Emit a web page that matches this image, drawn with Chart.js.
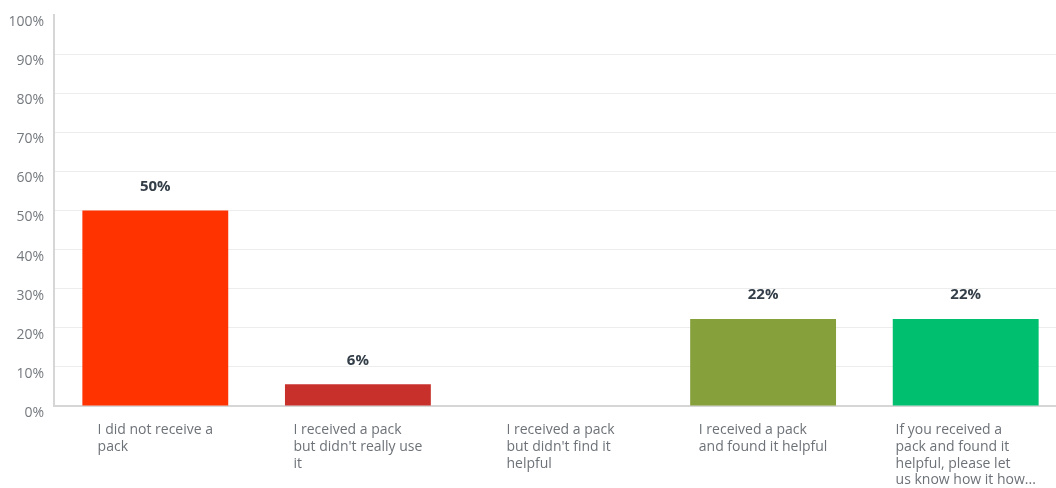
<!DOCTYPE html>
<html>
<head>
<meta charset="utf-8">
<script src="https://cdn.jsdelivr.net/npm/chart.js@4.4.1/dist/chart.umd.min.js"></script>
<style>
  html, body { margin: 0; padding: 0; background: #fff; overflow: hidden; }
  #wrap { width: 1067px; height: 488px; position: relative; }
</style>
</head>
<body>
<div id="wrap"><canvas id="answers"></canvas></div>
<script>
// answer choices, wrapped the way they appear under each bar
var categories = [
  ['I did not receive a', 'pack'],
  ['I received a pack', "but didn't really use", 'it'],
  ['I received a pack', "but didn't find it", 'helpful'],
  ['I received a pack', 'and found it helpful'],
  ['If you received a', 'pack and found it', 'helpful, please let', 'us know how it how...']
];
// share of respondents, percent
var responses = [50, 5.56, 0, 22.22, 22.22];
var barColors = ['#ff3300', '#c8312b', '#9e9e9e', '#86a03c', '#00bf6f'];
var yTicks = [0, 10, 20, 30, 40, 50, 60, 70, 80, 90, 100];

var fontFamily = '"Open Sans", "Noto Sans", sans-serif';

// percentage printed above each bar
var valueLabels = {
  id: 'valueLabels',
  afterDatasetsDraw: function (chart) {
    var ctx = chart.ctx;
    var meta = chart.getDatasetMeta(0);
    ctx.save();
    ctx.font = 'bold 15px ' + fontFamily;
    ctx.fillStyle = '#333e48';
    ctx.textAlign = 'center';
    ctx.textBaseline = 'middle';
    meta.data.forEach(function (bar, i) {
      var v = responses[i];
      if (!v) return;
      ctx.fillText(Math.round(v) + '%', bar.x, bar.y - 24);
    });
    ctx.restore();
  }
};

// category names: a left-aligned block of lines centred under each tick
var categoryLabels = {
  id: 'categoryLabels',
  afterDraw: function (chart) {
    var ctx = chart.ctx;
    var xs = chart.scales.x;
    ctx.save();
    ctx.font = '14px ' + fontFamily;
    ctx.fillStyle = '#6d7278';
    ctx.textAlign = 'left';
    ctx.textBaseline = 'middle';
    categories.forEach(function (lines, i) {
      var w = 0;
      lines.forEach(function (l) { w = Math.max(w, ctx.measureText(l).width); });
      var left = xs.getPixelForTick(i) - w / 2;
      lines.forEach(function (l, k) {
        ctx.fillText(l, left, xs.top + 24 + k * 16.8);
      });
    });
    ctx.restore();
  }
};

new Chart(document.getElementById('answers'), {
  type: 'bar',
  data: {
    labels: categories.map(function (l) { return l.join(' '); }),
    datasets: [{
      data: responses,
      backgroundColor: barColors,
      borderWidth: 0,
      barPercentage: 0.72,
      categoryPercentage: 1
    }]
  },
  options: {
    responsive: true,
    maintainAspectRatio: false,
    animation: false,
    layout: { padding: { top: 15, right: 0, left: 0, bottom: 0 } },
    plugins: {
      legend: { display: false },
      tooltip: { enabled: false }
    },
    scales: {
      x: {
        grid: { display: false, drawTicks: false },
        border: { display: true, color: '#d6d6d6', width: 2 },
        ticks: { display: false },
        afterFit: function (scale) {
          scale.height = 82;
          scale.paddingLeft = 0;
          scale.paddingRight = 0;
        }
      },
      y: {
        min: 0,
        max: 100,
        afterBuildTicks: function (scale) {
          scale.ticks = yTicks.map(function (v) { return { value: v }; });
        },
        grid: {
          drawTicks: false,
          color: function (c) { return c.tick && c.tick.value === 100 ? 'rgba(0,0,0,0)' : '#ededed'; },
          lineWidth: 1
        },
        border: { display: true, color: '#d6d6d6', width: 2 },
        ticks: {
          padding: 10,
          labelOffset: 7,
          color: '#74797e',
          font: { family: fontFamily, size: 14 },
          callback: function (v) { return v + '%'; }
        },
        afterFit: function (scale) {
          scale.width = 54;
          scale.paddingTop = 0;
          scale.paddingBottom = 0;
        }
      }
    }
  },
  plugins: [valueLabels, categoryLabels]
});
</script>
</body>
</html>
